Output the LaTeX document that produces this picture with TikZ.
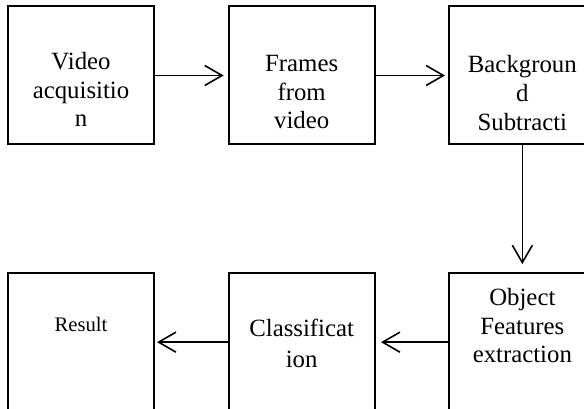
\documentclass[tikz,border=0pt]{standalone}
\usepackage{fontspec}
\setmainfont{Liberation Serif}
\usetikzlibrary{arrows.meta,positioning}

\begin{document}
\begin{tikzpicture}[
  x=0.75pt, y=-0.75pt,
  node distance=95pt and 54.5pt,
  stage/.style={
    draw=black,
    line width=1.5pt,
    minimum width=109.5pt,
    minimum height=103.5pt,
    inner sep=0pt,
  },
  stagetext/.style={
    font=\fontsize{18.6}{21.6}\selectfont,
    align=center,
    anchor=base,
    inner sep=0pt,
  },
  arr/.style={
    -{Straight Barb[length=13pt, width=15pt]},
    line width=1.2pt,
  },
]

\useasboundingbox (0,0) rectangle (584,409);
\clip (0,0) rectangle (584,409);

% --- top row: left to right ---
\node[stage] (acq) at (81,75.5) {};
\node[stage, right=of acq] (frames) {};
\node[stage, right=of frames] (bgsub) {};

% --- bottom row: right to left ---
\node[stage, below=of bgsub] (objfeat) {};
\node[stage, left=of objfeat] (classif) {};
\node[stage, left=of classif] (result) {};

% labels sit low in the boxes (base = last line)
\node[stagetext] (acqtext) at ([yshift=-91pt]acq.north) {Video\\acquisitio\\n};
\node[stagetext] (framestext) at ([yshift=-92.5pt]frames.north) {Frames\\from\\video};
\node[stagetext] (bgsubtext) at ([yshift=-93.5pt]bgsub.north) {Backgroun\\d\\Subtracti};
\node[stagetext] (objfeattext) at ([yshift=-68pt]objfeat.north) {Object\\Features\\extraction};
\node[stagetext, font=\fontsize{18.6}{23}\selectfont] (classiftext)
  at ([yshift=-71.5pt]classif.north) {Classificat\\ion};
\node[stagetext, font=\fontsize{15.5}{18}\selectfont] (resulttext)
  at ([yshift=-44.5pt]result.north) {Result};

\draw[arr, shorten >=3pt] (acq) -- (frames);
\draw[arr, shorten >=2.5pt] (frames) -- (bgsub);
\draw[arr, shorten >=6pt] (bgsub) -- (objfeat);
\draw[arr, shorten >=4pt] (objfeat) -- (classif);
\draw[arr, shorten >=1.5pt] (classif) -- (result);

\end{tikzpicture}
\end{document}
